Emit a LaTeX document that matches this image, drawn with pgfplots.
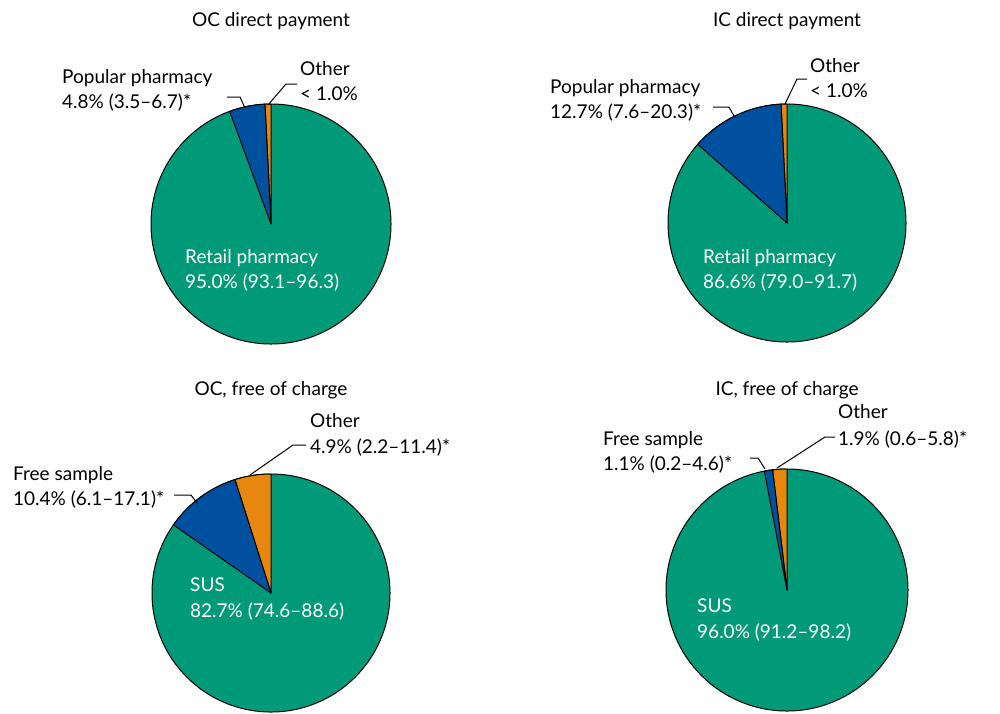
\documentclass[border=0pt]{standalone}
\usepackage{pgfplots}
\usepackage{pgfplotstable}
\pgfplotsset{compat=1.18}
\usepackage{fontspec}
\setmainfont{Lato}

\definecolor{cGreen}{RGB}{0,154,120}
\definecolor{cBlue}{RGB}{0,80,160}
\definecolor{cOther}{RGB}{232,135,14}

% slices from the top, counterclockwise; the rest of each pie is green
\pgfplotstableread{
value color
0.8 cOther
4.8 cBlue
}\ocdirect
\pgfplotstableread{
value color
0.8 cOther
12.7 cBlue
}\icdirect
\pgfplotstableread{
value color
4.9 cOther
10.4 cBlue
}\ocfree
\pgfplotstableread{
value color
1.9 cOther
1.1 cBlue
}\icfree

\newcommand{\drawpie}[4]{% cx, cy, radius (pt), table
  \pgfplotsextra{%
    \filldraw[fill=cGreen, line width=1pt] (#1,#2) circle[radius=#3pt];
    \gdef\cum{0}%
    \pgfplotstablegetrowsof{#4}%
    \pgfmathtruncatemacro\nrows{\pgfplotsretval-1}%
    \foreach \i in {0,...,\nrows} {%
      \pgfplotstablegetelem{\i}{value}\of{#4}\let\v\pgfplotsretval
      \pgfplotstablegetelem{\i}{color}\of{#4}\let\c\pgfplotsretval
      \pgfmathsetmacro\a{90+3.6*\cum}%
      \pgfmathsetmacro\b{\a+3.6*\v}%
      \filldraw[fill=\c, line width=1pt, line join=round] (#1,#2) -- ++(\a:#3pt)
        arc[start angle=\a, end angle=\b, radius=#3pt] -- cycle;
      \pgfmathsetmacro\t{\cum+\v}\xdef\cum{\t}%
    }%
  }%
}
\tikzset{lbl/.style={inner sep=0pt, anchor=base west, font=\fontsize{19}{24}\selectfont}}

\begin{document}
\fontsize{19}{24}\selectfont
\begin{tikzpicture}
\begin{axis}[
  width=1000pt, height=713pt, scale only axis,
  xmin=0, xmax=1000, ymin=0, ymax=713, y dir=reverse,
  hide axis, clip=false,
]
\drawpie{271}{224}{120}{\ocdirect}
\drawpie{787}{223}{119}{\icdirect}
\drawpie{271}{593}{119}{\ocfree}
\drawpie{787}{590}{121}{\icfree}

% titles
\node[lbl, anchor=base] at (271,26) {OC direct payment};
\node[lbl, anchor=base] at (787,26) {IC direct payment};
\node[lbl, anchor=base] at (271,395) {OC, free of charge};
\node[lbl, anchor=base] at (787,395) {IC, free of charge};

% OC direct payment
\node[lbl] at (62,83) {Popular pharmacy};
\node[lbl] at (62,108) {4.8\% (3.5--6.7)*};
\draw[line width=1pt] (227,97) -- (240,97) -- (245,108);
\node[lbl] at (300,75) {Other};
\node[lbl] at (300,100) {< 1.0\%};
\draw[line width=1pt] (297,84) -- (286,84) -- (268,105);
\node[lbl, text=white] at (185,263) {Retail pharmacy};
\node[lbl, text=white] at (185,288) {95.0\% (93.1--96.3)};

% IC direct payment
\node[lbl] at (550,93) {Popular pharmacy};
\node[lbl] at (550,118) {12.7\% (7.6--20.3)*};
\draw[line width=1pt] (713,107) -- (729,107) -- (734,116);
\node[lbl] at (810,72) {Other};
\node[lbl] at (810,97) {< 1.0\%};
\draw[line width=1pt] (807,79) -- (797,79) -- (785,104);
\node[lbl, text=white] at (703,263) {Retail pharmacy};
\node[lbl, text=white] at (703,288) {86.6\% (79.0--91.7)};

% OC, free of charge
\node[lbl] at (310,427) {Other};
\node[lbl] at (310,453) {4.9\% (2.2--11.4)*};
\draw[line width=1pt] (306,445) -- (293,445) -- (250,475);
\node[lbl] at (13,480) {Free sample};
\node[lbl] at (13,505) {10.4\% (6.1--17.1)*};
\draw[line width=1pt] (174,495) -- (191,495) -- (197,503);
\node[lbl, text=white] at (190,591) {SUS};
\node[lbl, text=white] at (190,617) {82.7\% (74.6--88.6)};

% IC, free of charge
\node[lbl] at (838,418) {Other};
\node[lbl] at (838,445) {1.9\% (0.6--5.8)*};
\draw[line width=1pt] (835,437) -- (825,437) -- (777,468);
\node[lbl] at (603,445) {Free sample};
\node[lbl] at (603,470) {1.1\% (0.2--4.6)*};
\draw[line width=1pt] (750,458) -- (758,458) -- (765,469);
\node[lbl, text=white] at (697,612) {SUS};
\node[lbl, text=white] at (697,638) {96.0\% (91.2--98.2)};
\end{axis}
\pgfresetboundingbox
\path (current axis.south west) rectangle (current axis.north east);
\end{tikzpicture}
\end{document}
